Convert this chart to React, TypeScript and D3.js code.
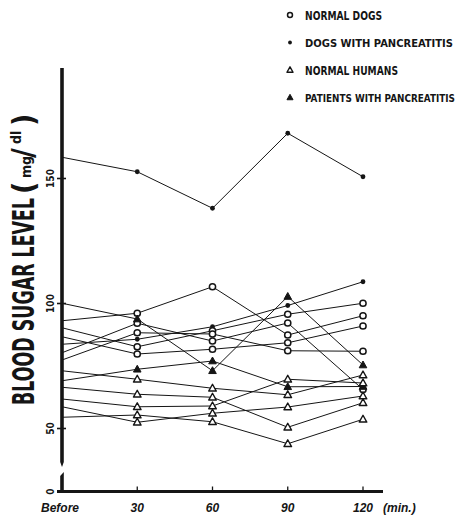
import React from "react";
import * as d3 from "d3";

// ---- data ----
const times = ["Before", "30", "60", "90", "120"];
const timeLabels = ["Before", "30", "60", "90", "120"];
const yTicks = [50, 100, 150];
const legendLabels = [
  "NORMAL DOGS",
  "DOGS WITH PANCREATITIS",
  "NORMAL HUMANS",
  "PATIENTS WITH PANCREATITIS",
];
const legendMarkers = ["circle", "dot", "triangle", "filledTriangle"];

// dogs with pancreatitis (filled dots)
const dogPancA = [158.5, 152.7, 138.1, 168.1, 150.7];
const dogPancB = [83.7, 85.7, 90.7, 99.2, 108.7];
// normal dogs (open circles)
const normalDog1 = [93.1, 96.1, 106.7, 87.4, 95.1];
const normalDog2 = [90.3, 82.7, 89.1, 95.7, 100.1];
const normalDog3 = [86.7, 79.8, 81.7, 84.3, 91.0];
const normalDog4 = [80.3, 92.1, 85.0, 92.2, 65.6];
const normalDog5 = [77.4, 88.3, 87.8, 81.1, 80.9];
// patients with pancreatitis (filled triangles)
const patient1 = [100.1, 93.8, 73.1, 102.8, 75.4];
const patient2 = [69.1, 73.7, 77.0, 66.7, 66.8];
// normal humans (open triangles)
const human1 = [73.1, 69.7, 66.1, 63.5, 71.4];
const human2 = [66.5, 63.7, 62.5, 50.5, 60.3];
const human3 = [61.8, 58.7, 59.0, 69.7, 68.2];
const human4 = [58.7, 52.5, 56.1, 58.6, 63.0];
const human5 = [54.5, 55.4, 52.7, 43.9, 53.7];

const seriesList = [
  { group: 1, values: dogPancA },
  { group: 1, values: dogPancB },
  { group: 0, values: normalDog1 },
  { group: 0, values: normalDog2 },
  { group: 0, values: normalDog3 },
  { group: 0, values: normalDog4 },
  { group: 0, values: normalDog5 },
  { group: 3, values: patient1 },
  { group: 3, values: patient2 },
  { group: 2, values: human1 },
  { group: 2, values: human2 },
  { group: 2, values: human3 },
  { group: 2, values: human4 },
  { group: 2, values: human5 },
];

const INK = "#151515";
const HAND = "'Liberation Sans Narrow', 'DejaVu Sans Condensed', 'Roboto', sans-serif";

function Marker({ kind, x, y, s = 1 }: { kind: string; x: number; y: number; s?: number }) {
  if (kind === "circle")
    return <circle cx={x} cy={y} r={3.1 * s} fill="#fff" stroke={INK} strokeWidth={1.5} />;
  if (kind === "dot") return <circle cx={x} cy={y} r={2.4 * s} fill={INK} />;
  const h = 4 * s;
  const w = 3.8 * s;
  const d = `M${x},${y - h}L${x + w},${y + h * 0.7}L${x - w},${y + h * 0.7}Z`;
  if (kind === "triangle")
    return <path d={d} fill="#fff" stroke={INK} strokeWidth={1.4} strokeLinejoin="round" />;
  return <path d={d} fill={INK} stroke={INK} strokeWidth={1} strokeLinejoin="round" />;
}

export default function App() {
  const W = 462;
  const H = 519;
  const x = d3.scalePoint<string>().domain(times).range([62, 363]);
  const y = d3.scaleLinear().domain([50, 150]).range([428.5, 178.5]);
  const line = d3
    .line<number>()
    .x((_, i) => x(times[i]) as number)
    .y((v) => y(v));

  const axisX = 62;
  const baseY = 491.5;
  const legendWidths = [77, 148, 93, 150];
  const legendSizes = [11.5, 11, 11.5, 10];

  return (
    <svg
      width={W}
      height={H}
      viewBox={`0 0 ${W} ${H}`}
      style={{ position: "absolute", left: 0, top: 0, background: "#fff" }}
    >
      <rect width={W} height={H} fill="#fff" />

      {/* series lines */}
      {seriesList.map((s, i) => (
        <path key={"l" + i} d={line(s.values) || ""} fill="none" stroke={INK} strokeWidth={1} />
      ))}

      {/* y axis (broken) */}
      <line x1={axisX} x2={axisX} y1={68} y2={462} stroke={INK} strokeWidth={3.6} />
      <path d={`M${axisX - 1.8},462L${axisX},467L${axisX + 1.8},462Z`} fill={INK} />
      <path d={`M${axisX - 1.8},476L${axisX + 1.8},472L${axisX + 1.8},${baseY}L${axisX - 1.8},${baseY}Z`} fill={INK} />
      {/* x axis */}
      <line x1={57} x2={383} y1={baseY} y2={baseY} stroke={INK} strokeWidth={3.2} />
      {times.slice(1).map((t) => (
        <line key={"xt" + t} x1={x(t)} x2={x(t)} y1={baseY - 5} y2={baseY} stroke={INK} strokeWidth={1.3} />
      ))}

      {/* y ticks */}
      {yTicks.map((v) => (
        <g key={"yt" + v}>
          <line x1={axisX - 5} x2={axisX + 4} y1={y(v)} y2={y(v)} stroke={INK} strokeWidth={1.6} />
          <text
            transform={`translate(54,${y(v)}) rotate(-90)`}
            textAnchor="middle"
            fontFamily={HAND}
            fontWeight="bold"
            fontSize={10}
            fill={INK}
          >
            {v}
          </text>
        </g>
      ))}
      <text
        transform={`translate(54,${baseY}) rotate(-90)`}
        textAnchor="middle"
        fontFamily={HAND}
        fontWeight="bold"
        fontSize={10}
        fill={INK}
      >
        0
      </text>

      {/* markers (not at "Before") */}
      {seriesList.map((s, i) =>
        s.values.map((v, j) =>
          j === 0 ? null : (
            <Marker key={`m${i}-${j}`} kind={legendMarkers[s.group]} x={x(times[j]) as number} y={y(v)} />
          )
        )
      )}

      {/* x tick labels */}
      {timeLabels.map((t, i) => (
        <text
          key={"xl" + t}
          x={i === 0 ? 60 : (x(times[i]) as number)}
          y={512}
          textAnchor="middle"
          fontFamily="'Liberation Sans', 'DejaVu Sans', sans-serif"
          fontStyle="italic"
          fontWeight="bold"
          fontSize={12}
          fill={INK}
        >
          {t}
        </text>
      ))}
      <text
        x={383}
        y={512}
        fontFamily="'Liberation Sans', 'DejaVu Sans', sans-serif"
        fontStyle="italic"
        fontWeight="bold"
        fontSize={12}
        fill={INK}
      >
        (min.)
      </text>

      {/* y title */}
      <text
        transform={`translate(34,405) rotate(-90)`}
        fontFamily={HAND}
        fontWeight="bold"
        fontSize={30}
        textLength={207}
        lengthAdjust="spacingAndGlyphs"
        fill={INK}
      >
        BLOOD SUGAR LEVEL
      </text>
      <g transform={`translate(34,194) rotate(-90)`} fontFamily={HAND} fontWeight="bold" fill={INK}>
        <text x={0} y={0} fontSize={30}>(</text>
        <text x={16} y={-3} fontSize={14}>mg</text>
        <text x={36} y={-1} fontSize={30}>/</text>
        <text x={50} y={-13} fontSize={14}>dl</text>
        <text x={68} y={0} fontSize={30}>)</text>
      </g>

      {/* legend */}
      {legendLabels.map((lab, i) => {
        const ly = 15 + i * 27.5;
        return (
          <g key={"lg" + i}>
            <Marker kind={legendMarkers[i]} x={290} y={ly} s={0.8} />
            <text
              x={305}
              y={ly + 4.5}
              fontFamily={HAND}
              fontWeight="bold"
              fontSize={legendSizes[i]}
              textLength={legendWidths[i]}
              lengthAdjust="spacingAndGlyphs"
              fill={INK}
            >
              {lab}
            </text>
          </g>
        );
      })}
    </svg>
  );
}
